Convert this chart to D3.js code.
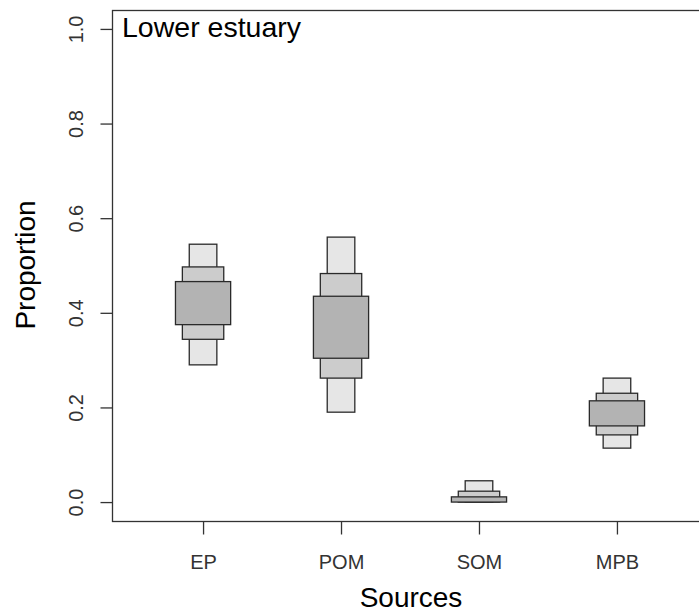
<!DOCTYPE html>
<html>
<head>
<meta charset="utf-8">
<script src="https://cdn.jsdelivr.net/npm/d3@7"></script>
<style>
  html, body { margin: 0; padding: 0; background: #fff; }
  svg { display: block; font-family: "Liberation Sans", Arial, sans-serif; }
</style>
</head>
<body>
<svg id="chart" width="699" height="615"></svg>
<script>
// Source contributions (proportions): credible intervals per source
const sources = ["EP", "POM", "SOM", "MPB"];
const lo95 = [0.290, 0.190, 0.000, 0.114];
const hi95 = [0.545, 0.560, 0.045, 0.262];
const lo75 = [0.344, 0.262, 0.000, 0.142];
const hi75 = [0.497, 0.483, 0.023, 0.230];
const lo50 = [0.375, 0.304, 0.000, 0.161];
const hi50 = [0.466, 0.435, 0.011, 0.214];
const yTicks = [0, 0.2, 0.4, 0.6, 0.8, 1.0];
const panelTitle = "Lower estuary";

const svg = d3.select("#chart");

const x = d3.scaleLinear().domain([0.34, 4.66]).range([112, 708]);
const y = d3.scaleLinear().domain([-0.04, 1.04]).range([521, 10]);

// interval layers drawn from widest to narrowest
const layers = [
  { lo: lo95, hi: hi95, half: 0.10, fill: "#e6e6e6" },
  { lo: lo75, hi: hi75, half: 0.15, fill: "#cccccc" },
  { lo: lo50, hi: hi50, half: 0.20, fill: "#b3b3b3" }
];

const boxes = svg.append("g");
layers.forEach(layer => {
  boxes.append("g").selectAll("rect")
    .data(sources)
    .join("rect")
    .attr("x", (d, i) => x(i + 1 - layer.half))
    .attr("width", x(1 + layer.half) - x(1 - layer.half))
    .attr("y", (d, i) => y(layer.hi[i]))
    .attr("height", (d, i) => y(layer.lo[i]) - y(layer.hi[i]))
    .attr("fill", layer.fill)
    .attr("stroke", "#2a2a2a")
    .attr("stroke-width", 1.3);
});

// plot frame
svg.append("rect")
  .attr("x", 112.5).attr("y", 10.5)
  .attr("width", 708 - 112).attr("height", 521 - 10)
  .attr("fill", "none").attr("stroke", "#333").attr("stroke-width", 1.3);

// y axis
const yAxis = svg.append("g")
  .attr("transform", "translate(112.5,0)")
  .call(d3.axisLeft(y).tickValues(yTicks).tickSize(12).tickFormat(d3.format(".1f")));
yAxis.select(".domain").remove();
yAxis.selectAll(".tick line").attr("stroke", "#333").attr("stroke-width", 1.3);
yAxis.selectAll(".tick text")
  .attr("transform", "rotate(-90)")
  .attr("x", 0).attr("y", -30).attr("dy", null)
  .attr("text-anchor", "middle")
  .attr("fill", "#333")
  .style("font-size", "20px")
  .style("font-family", "'Liberation Sans', Arial, sans-serif");

// x axis
const xAxis = svg.append("g")
  .attr("transform", "translate(0,521.5)")
  .call(d3.axisBottom(x).tickValues(d3.range(1, sources.length + 1))
    .tickSize(13).tickFormat(d => sources[d - 1]));
xAxis.select(".domain").remove();
xAxis.selectAll(".tick line").attr("stroke", "#333").attr("stroke-width", 1.3);
xAxis.selectAll(".tick text")
  .attr("y", 47.5).attr("dy", null)
  .attr("fill", "#333")
  .style("font-size", "20px")
  .style("font-family", "'Liberation Sans', Arial, sans-serif");

// axis titles
svg.append("text")
  .attr("x", 411).attr("y", 607)
  .attr("text-anchor", "middle")
  .style("font-size", "28px")
  .attr("fill", "#000")
  .text("Sources");

svg.append("text")
  .attr("transform", "translate(35,265) rotate(-90)")
  .attr("text-anchor", "middle")
  .style("font-size", "28px")
  .attr("fill", "#000")
  .text("Proportion");

// panel label
svg.append("text")
  .attr("x", 122).attr("y", 37)
  .style("font-size", "28.5px")
  .attr("fill", "#000")
  .text(panelTitle);
</script>
</body>
</html>
